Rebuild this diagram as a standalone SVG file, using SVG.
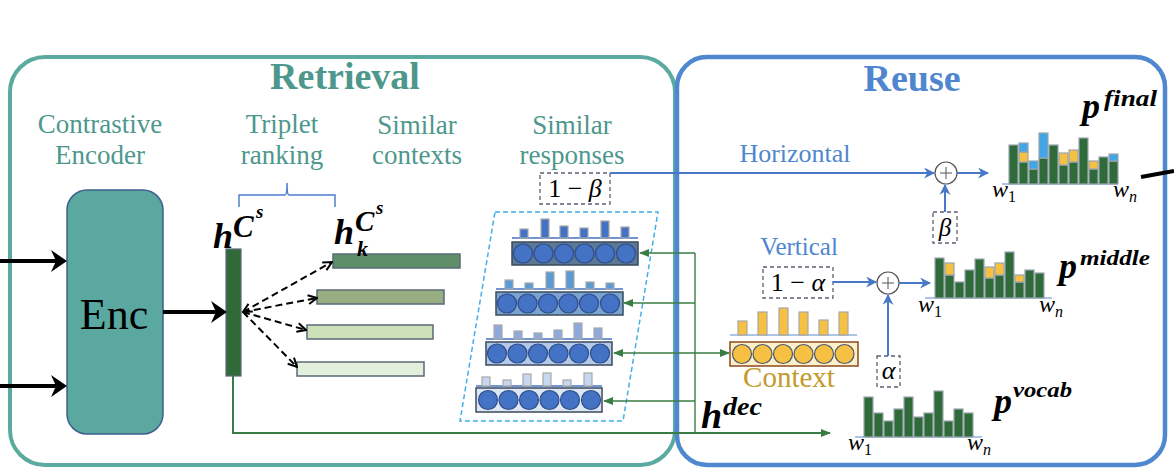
<svg xmlns="http://www.w3.org/2000/svg" width="1174" height="476" viewBox="0 0 1174 476">
<style>
.lbl{font-family:"Liberation Serif","Times New Roman",serif;font-size:27px;text-anchor:middle}
.teal{fill:#4d978d}
.blue{fill:#4f86cf}
.title{font-family:"Liberation Serif","Times New Roman",serif;font-weight:bold;font-size:38px;text-anchor:middle}
.mb{font-family:"Liberation Serif","Times New Roman",serif;font-weight:bold;font-style:italic;fill:#000}
.mi{font-family:"Liberation Serif","Times New Roman",serif;font-style:italic;fill:#000}
.mr{font-family:"Liberation Serif","Times New Roman",serif;fill:#000}
.dbox{fill:#fff;stroke:#5a6070;stroke-width:1.3;stroke-dasharray:4 3}
.bar{stroke:#a8a8a8;stroke-width:1.2}
.hg{fill:#2e6b38;stroke:#9aa5b0;stroke-width:1.2}
.hy{fill:#f6c142;stroke:#9aa5b0;stroke-width:1.2}
.hb{fill:#41a5e6;stroke:#9aa5b0;stroke-width:1.2}
.base{stroke:#8fb0e0;stroke-width:1.5}
.circ{fill:#4472c4;stroke:#2f4f8a;stroke-width:1.2}
.ycirc{fill:#f6c142;stroke:#4a5a70;stroke-width:1.2}
.ctx{stroke:#5a6a7a;stroke-width:1.5}
.barrow{stroke:#4a78c8;stroke-width:2;fill:none}
.garrow{stroke:#3a7d44;stroke-width:1.4;fill:none}
.dash{stroke:#000;stroke-width:2;stroke-dasharray:7 4;fill:none}
.thick{stroke:#000;stroke-width:4;fill:none}
</style>
<defs>
<marker id="ab" viewBox="0 0 10 10" refX="9" refY="5" markerWidth="11" markerHeight="11" markerUnits="userSpaceOnUse" orient="auto"><path d="M0,0 L10,5 L0,10 L3,5 Z" fill="#4a78c8"/></marker>
<marker id="ag" viewBox="0 0 10 10" refX="9" refY="5" markerWidth="10" markerHeight="10" markerUnits="userSpaceOnUse" orient="auto"><path d="M0,1 L10,5 L0,9 Z" fill="#3a7d44"/></marker>
<marker id="ak" viewBox="0 0 10 10" refX="9" refY="5" markerWidth="11" markerHeight="11" markerUnits="userSpaceOnUse" orient="auto"><path d="M1,1 L9,5 L1,9" fill="none" stroke="#000" stroke-width="1.8"/></marker>
<marker id="aks" viewBox="0 0 10 10" refX="1" refY="5" markerWidth="11" markerHeight="11" markerUnits="userSpaceOnUse" orient="auto"><path d="M9,1 L1,5 L9,9" fill="none" stroke="#000" stroke-width="1.8"/></marker>
</defs>

<!-- containers -->
<g id="retrieval">
<rect x="10" y="57" width="665" height="408" rx="35" fill="none" stroke="#5aaaa0" stroke-width="4"/>
<text class="title teal" x="345" y="89">Retrieval</text>
<text class="lbl teal" x="100" y="133">Contrastive<tspan x="100" dy="31">Encoder</tspan></text>
<text class="lbl teal" x="282" y="133">Triplet<tspan x="282" dy="31">ranking</tspan></text>
<text class="lbl teal" x="417" y="134">Similar<tspan x="417" dy="30">contexts</tspan></text>
<text class="lbl teal" x="572" y="134">Similar<tspan x="572" dy="30">responses</tspan></text>
</g>
<g id="reuse">
<rect x="677" y="57" width="488" height="408" rx="30" fill="none" stroke="#5088d0" stroke-width="4.5"/>
<text class="title blue" x="912" y="91">Reuse</text>
<text class="lbl blue" x="795" y="162" style="font-size:26px">Horizontal</text>
<text class="lbl blue" x="799" y="255" style="font-size:25px">Vertical</text>
</g>

<!-- encoder -->
<g id="enc">
<rect x="67" y="190" width="96" height="244" rx="20" fill="#5aa8a0" stroke="#3f5f8f" stroke-width="1.5"/>
<text class="mr" x="114" y="329" text-anchor="middle" style="font-size:44px">Enc</text>
</g>

<!-- triplet brace -->
<g id="brace">
<path d="M239,207 L239,195 L285,195 Q287,195 287,183 Q287,195 289,195 L335,195 L335,207" fill="none" stroke="#4f7fd0" stroke-width="1.5"/>
</g>

<!-- h cs -->
<g id="hcs">
<rect x="226" y="249" width="15" height="127" fill="#316a39" stroke="#5a6a7a" stroke-width="1.2"/>
<text class="mb" x="213" y="248" style="font-size:36px">h<tspan x="233" y="237" style="font-size:31px">C</tspan><tspan x="256" y="218" style="font-size:19px">s</tspan></text>
</g>

<!-- similar contexts -->
<g id="contexts">
<rect class="ctx" x="333" y="254" width="127" height="14" fill="#5e8e68"/>
<rect class="ctx" x="317" y="290" width="127" height="14" fill="#98ad82"/>
<rect class="ctx" x="307" y="325" width="126" height="14" fill="#cde0b9"/>
<rect class="ctx" x="297" y="362" width="127" height="14" fill="#e2efda"/>
<text class="mb" x="334" y="244" style="font-size:36px">h<tspan x="355" y="231" style="font-size:29px">C</tspan><tspan x="376" y="214" style="font-size:19px">s</tspan><tspan x="357" y="256" style="font-size:22px">k</tspan></text>
</g>

<!-- similar responses -->
<g id="responses">
<polygon points="495,212 658,212 623,421 460,421" fill="none" stroke="#3fb0e8" stroke-width="1.5" stroke-dasharray="5 3"/>
<!-- row1 -->
<line x1="512" y1="238" x2="638" y2="238" stroke="#4472c4" stroke-width="1.5"/>
<g class="bar" fill="#4472c4">
<rect x="520" y="229" width="8" height="9"/><rect x="541" y="219" width="8" height="19"/><rect x="560" y="226" width="8" height="12"/><rect x="580" y="228" width="8" height="10"/><rect x="601" y="221" width="8" height="17"/><rect x="621" y="227" width="8" height="11"/>
</g>
<rect x="512" y="242" width="126" height="23" fill="#5b7896" stroke="#3b4a5e" stroke-width="1.5"/>
<g class="circ"><circle cx="523" cy="253.5" r="9.5"/><circle cx="543.5" cy="253.5" r="9.5"/><circle cx="564" cy="253.5" r="9.5"/><circle cx="584.5" cy="253.5" r="9.5"/><circle cx="605" cy="253.5" r="9.5"/><circle cx="626" cy="253.5" r="9.5"/></g>
<!-- row2 -->
<line x1="496" y1="289" x2="623" y2="289" stroke="#4472c4" stroke-width="1.5"/>
<g class="bar" fill="#5b9bd5">
<rect x="505" y="280" width="8" height="9"/><rect x="525" y="283" width="8" height="6"/><rect x="546" y="272" width="8" height="17"/><rect x="566" y="271" width="8" height="18"/><rect x="586" y="282" width="8" height="7"/><rect x="606" y="283" width="8" height="6"/>
</g>
<rect x="496" y="292" width="127" height="23" fill="#7ba3d0" stroke="#3b4a5e" stroke-width="1.5"/>
<g class="circ"><circle cx="507" cy="303.5" r="9.5"/><circle cx="527.5" cy="303.5" r="9.5"/><circle cx="548" cy="303.5" r="9.5"/><circle cx="568.5" cy="303.5" r="9.5"/><circle cx="589" cy="303.5" r="9.5"/><circle cx="610" cy="303.5" r="9.5"/></g>
<!-- row3 -->
<line x1="486" y1="339" x2="612" y2="339" stroke="#4472c4" stroke-width="1.5"/>
<g class="bar" fill="#8eaadc">
<rect x="494" y="325" width="8" height="14"/><rect x="514" y="331" width="8" height="8"/><rect x="534" y="333" width="8" height="6"/><rect x="554" y="330" width="8" height="9"/><rect x="574" y="323" width="8" height="16"/><rect x="594" y="328" width="8" height="11"/>
</g>
<rect x="486" y="342" width="126" height="23" fill="#b4c8e8" stroke="#3b4a5e" stroke-width="1.5"/>
<g class="circ"><circle cx="497" cy="353.5" r="9.5"/><circle cx="517.5" cy="353.5" r="9.5"/><circle cx="538" cy="353.5" r="9.5"/><circle cx="558.5" cy="353.5" r="9.5"/><circle cx="579" cy="353.5" r="9.5"/><circle cx="600" cy="353.5" r="9.5"/></g>
<!-- row4 -->
<line x1="476" y1="386" x2="602" y2="386" stroke="#4472c4" stroke-width="1.5"/>
<g class="bar" fill="#c5d8f0">
<rect x="482" y="377" width="8" height="9"/><rect x="503" y="380" width="8" height="6"/><rect x="523" y="374" width="8" height="12"/><rect x="543" y="373" width="8" height="13"/><rect x="563" y="380" width="8" height="6"/><rect x="584" y="373" width="8" height="13"/>
</g>
<rect x="476" y="388" width="126" height="24" fill="#dce6f4" stroke="#3b4a5e" stroke-width="1.5"/>
<g class="circ"><circle cx="488" cy="400" r="9.5"/><circle cx="508.5" cy="400" r="9.5"/><circle cx="529" cy="400" r="9.5"/><circle cx="549.5" cy="400" r="9.5"/><circle cx="570" cy="400" r="9.5"/><circle cx="591" cy="400" r="9.5"/></g>
</g>

<!-- 1-beta box -->
<g id="one-minus-beta">
<rect class="dbox" x="540" y="173" width="70" height="31"/>
<text class="mr" x="575" y="197" text-anchor="middle" style="font-size:26px">1 − <tspan class="mi">β</tspan></text>
</g>

<!-- context -->
<g id="context">
<line x1="730" y1="335" x2="857" y2="335" stroke="#8fb0e0" stroke-width="1.5"/>
<g class="bar" fill="#f6c142">
<rect x="738" y="321" width="9" height="14"/><rect x="758" y="312" width="9" height="23"/><rect x="779" y="308" width="9" height="27"/><rect x="799" y="312" width="9" height="23"/><rect x="819" y="320" width="9" height="15"/><rect x="839" y="312" width="9" height="23"/>
</g>
<rect x="730" y="342" width="128" height="24" fill="#fdf0c8" stroke="#8b4a1e" stroke-width="1.5"/>
<g class="ycirc"><circle cx="742" cy="354" r="9.5"/><circle cx="762.5" cy="354" r="9.5"/><circle cx="783" cy="354" r="9.5"/><circle cx="803.5" cy="354" r="9.5"/><circle cx="824" cy="354" r="9.5"/><circle cx="844.5" cy="354" r="9.5"/></g>
<text x="789" y="387" text-anchor="middle" style="font-family:'Liberation Serif','Times New Roman',serif;font-size:29px;fill:#c49a2c">Context</text>
</g>

<!-- h dec -->
<g id="hdec">
<text class="mb" x="701" y="428" style="font-size:38px">h<tspan x="723" y="415" style="font-size:25px" textLength="39" lengthAdjust="spacingAndGlyphs">dec</tspan></text>
</g>

<!-- p vocab -->
<g id="pvocab">
<line class="base" x1="855" y1="437" x2="982" y2="437"/>
<g class="hg">
<rect x="864" y="397" width="9" height="40"/><rect x="874" y="413" width="9" height="24"/><rect x="884" y="421" width="9" height="16"/><rect x="894" y="409" width="9" height="28"/><rect x="904" y="397" width="9" height="40"/><rect x="914" y="417" width="9" height="20"/><rect x="924" y="413" width="9" height="24"/><rect x="934" y="391" width="9" height="46"/><rect x="944" y="421" width="9" height="16"/><rect x="954" y="409" width="9" height="28"/><rect x="964" y="413" width="9" height="24"/>
</g>
<text class="mi" x="848" y="450" style="font-size:24px">w<tspan style="font-size:16px;font-style:normal" dy="5">1</tspan></text>
<text class="mi" x="967" y="450" style="font-size:24px">w<tspan style="font-size:16px" dy="5">n</tspan></text>
<text class="mb" x="994" y="413" style="font-size:36px">p<tspan x="1013" y="397" style="font-size:22px" textLength="59" lengthAdjust="spacingAndGlyphs">vocab</tspan></text>
</g>

<!-- p middle -->
<g id="pmiddle">
<line class="base" x1="925" y1="298" x2="1052" y2="298"/>
<rect class="hg" x="935" y="258" width="9" height="40"/>
<rect class="hg" x="945" y="275" width="9" height="23"/><rect class="hy" x="945" y="263" width="9" height="12"/>
<rect class="hg" x="955" y="282" width="9" height="16"/>
<rect class="hg" x="965" y="270" width="9" height="28"/>
<rect class="hg" x="975" y="259" width="9" height="39"/>
<rect class="hg" x="985" y="278" width="9" height="20"/><rect class="hy" x="985" y="267" width="9" height="11"/>
<rect class="hg" x="995" y="275" width="9" height="23"/><rect class="hy" x="995" y="263" width="9" height="12"/>
<rect class="hg" x="1005" y="252" width="9" height="46"/>
<rect class="hg" x="1015" y="282" width="9" height="16"/><rect class="hy" x="1015" y="275" width="9" height="7"/>
<rect class="hg" x="1025" y="270" width="9" height="28"/>
<rect class="hg" x="1035" y="273" width="9" height="25"/>
<text class="mi" x="918" y="312" style="font-size:24px">w<tspan style="font-size:16px;font-style:normal" dy="5">1</tspan></text>
<text class="mi" x="1039" y="312" style="font-size:24px">w<tspan style="font-size:16px" dy="5">n</tspan></text>
<text class="mb" x="1059" y="278" style="font-size:36px">p<tspan x="1080" y="265" style="font-size:22px" textLength="70" lengthAdjust="spacingAndGlyphs">middle</tspan></text>
</g>

<!-- p final -->
<g id="pfinal">
<line class="base" x1="1002" y1="184" x2="1118" y2="184"/>
<rect class="hg" x="1009" y="145" width="9" height="39"/>
<rect class="hg" x="1019" y="162" width="9" height="22"/><rect class="hy" x="1019" y="152" width="9" height="10"/><rect class="hb" x="1019" y="143" width="9" height="9"/>
<rect class="hg" x="1029" y="169" width="9" height="15"/><rect class="hb" x="1029" y="161" width="9" height="8"/>
<rect class="hg" x="1039" y="158" width="9" height="26"/><rect class="hb" x="1039" y="133" width="9" height="25"/>
<rect class="hg" x="1049" y="145" width="9" height="39"/>
<rect class="hg" x="1059" y="165" width="9" height="19"/><rect class="hy" x="1059" y="153" width="9" height="12"/>
<rect class="hg" x="1069" y="162" width="9" height="22"/><rect class="hy" x="1069" y="150" width="9" height="12"/>
<rect class="hg" x="1079" y="138" width="9" height="46"/>
<rect class="hg" x="1089" y="169" width="9" height="15"/><rect class="hy" x="1089" y="161" width="9" height="8"/>
<rect class="hg" x="1099" y="157" width="9" height="27"/>
<rect class="hg" x="1109" y="161" width="9" height="23"/><rect class="hb" x="1109" y="154" width="9" height="7"/>
<text class="mi" x="992" y="197" style="font-size:24px">w<tspan style="font-size:16px;font-style:normal" dy="5">1</tspan></text>
<text class="mi" x="1113" y="197" style="font-size:24px">w<tspan style="font-size:16px" dy="5">n</tspan></text>
<text class="mb" x="1082" y="118" style="font-size:36px">p<tspan x="1104" y="106" style="font-size:23px" textLength="53" lengthAdjust="spacingAndGlyphs">final</tspan></text>
</g>

<!-- weight boxes and sums -->
<g id="beta">
<rect class="dbox" x="933" y="212" width="24" height="31"/>
<text class="mi" x="945" y="236" text-anchor="middle" style="font-size:25px">β</text>
</g>
<g id="one-minus-alpha">
<rect class="dbox" x="763" y="267" width="70" height="31"/>
<text class="mr" x="798" y="291" text-anchor="middle" style="font-size:26px">1 − <tspan class="mi">α</tspan></text>
</g>
<g id="alpha">
<rect class="dbox" x="877" y="356" width="23" height="31"/>
<text class="mi" x="888.5" y="379" text-anchor="middle" style="font-size:26px">α</text>
</g>
<g id="sum-top">
<circle cx="946" cy="173" r="11" fill="#fff" stroke="#555" stroke-width="1.2"/>
<path d="M940,173 H952 M946,167 V179" stroke="#555" stroke-width="1"/>
</g>
<g id="sum-mid">
<circle cx="888" cy="283" r="11" fill="#fff" stroke="#555" stroke-width="1.2"/>
<path d="M882,283 H894 M888,277 V289" stroke="#555" stroke-width="1"/>
</g>

<!-- connectors -->
<g id="connectors">
<path class="thick" d="M0,261 H58"/>
<path d="M67,261 L51,250 L56,261 L51,272 Z" fill="#000"/>
<path class="thick" d="M0,386 H58"/>
<path d="M67,386 L51,375 L56,386 L51,397 Z" fill="#000"/>
<path class="thick" d="M163,312 H218"/>
<path d="M227,312 L211,301 L216,312 L211,323 Z" fill="#000"/>
<path class="dash" d="M243,312 L332,262" marker-end="url(#ak)" marker-start="url(#aks)"/>
<path class="dash" d="M243,312 L317,298" marker-end="url(#ak)"/>
<path class="dash" d="M243,312 L306,330" marker-end="url(#ak)"/>
<path class="dash" d="M243,312 L297,367" marker-end="url(#ak)"/>
<!-- green -->
<path d="M233,376 V433 H830" fill="none" stroke="#3a7d44" stroke-width="2" marker-end="url(#ag)"/>
<path class="garrow" d="M695,433 V253"/>
<path class="garrow" d="M695,253 H640" marker-end="url(#ag)"/>
<path class="garrow" d="M695,303 H624" marker-end="url(#ag)"/>
<path class="garrow" d="M695,353 H614" marker-end="url(#ag)"/>
<path class="garrow" d="M695,353 H729" marker-end="url(#ag)"/>
<path class="garrow" d="M695,401 H604" marker-end="url(#ag)"/>
<!-- blue -->
<path class="barrow" d="M610,173 H934" marker-end="url(#ab)"/>
<path class="barrow" d="M957,173 H988" marker-end="url(#ab)"/>
<path class="barrow" d="M945,212 V185" marker-end="url(#ab)"/>
<path class="barrow" d="M833,282 H876" marker-end="url(#ab)"/>
<path class="barrow" d="M899,283 H930" marker-end="url(#ab)"/>
<path class="barrow" d="M888,356 V295" marker-end="url(#ab)"/>
<!-- output -->
<path d="M1141,177 L1174,171" stroke="#000" stroke-width="4"/>
</g>
</svg>
